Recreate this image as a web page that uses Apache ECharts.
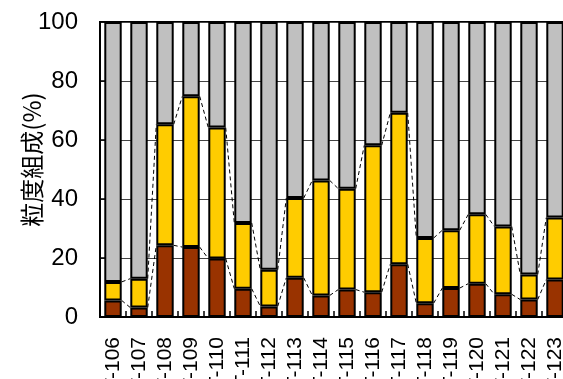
<!DOCTYPE html>
<html>
<head>
<meta charset="utf-8">
<script src="https://cdn.jsdelivr.net/npm/echarts@6/dist/echarts.min.js"></script>
<style>
html,body{margin:0;padding:0;background:#fff;}
#chart{width:563px;height:379px;}
</style>
</head>
<body>
<div id="chart"></div>
<script>
// Categories (sample labels)
var categories = ['T-106','T-107','T-108','T-109','T-110','T-111','T-112','T-113','T-114','T-115','T-116','T-117','T-118','T-119','T-120','T-121','T-122','T-123'];
// Cumulative boundaries (%)
var fineTop   = [5.6, 3.2, 24.3, 23.7, 19.8, 9.6, 3.6, 13.3, 7.3, 9.3, 8.4, 17.9, 4.7, 9.8, 11.3, 7.7, 5.9, 12.7];
var middleTop = [11.9, 13.0, 65.3, 74.8, 64.2, 31.9, 16.0, 40.3, 46.3, 43.5, 58.2, 69.2, 26.8, 29.4, 34.8, 30.7, 14.4, 33.7];
var yTicks = [0, 20, 40, 60, 80, 100];

// Segment values
var fine = fineTop.slice();
var middle = middleTop.map(function(v, i){ return +(v - fineTop[i]).toFixed(1); });
var coarse = middleTop.map(function(v){ return +(100 - v).toFixed(1); });

var BAR_RATIO = 0.67;
var linkData = [];
for (var i = 0; i < categories.length - 1; i++) {
  linkData.push([i, fineTop[i], fineTop[i+1], middleTop[i], middleTop[i+1]]);
}

var chart = echarts.init(document.getElementById('chart'), null, {renderer:'canvas'});
var barStyle = function(c){ return {color:c, borderColor:'#000', borderWidth:2}; };

chart.setOption({
  animation:false,
  grid:{left:100, top:22, width:468, height:295, containLabel:false, outerBoundsMode:'none',
        show:true, borderColor:'#000', borderWidth:2, backgroundColor:'transparent'},
  xAxis:{
    type:'category', data:categories,
    axisLine:{lineStyle:{color:'#000', width:2}},
    axisTick:{show:true, inside:true, length:6, interval:0, lineStyle:{color:'#000', width:1.5}},
    axisLabel:{rotate:90, interval:0, fontFamily:'Liberation Sans, Arial, sans-serif', fontSize:21, color:'#000', margin:20},
    splitLine:{show:false}
  },
  yAxis:{
    type:'value', min:0, max:100, interval:20,
    name:'粒度組成(%)', nameLocation:'middle', nameGap:56, nameRotate:90, nameMoveOverlap:false,
    nameTextStyle:{fontFamily:'Noto Sans CJK JP', fontSize:24, color:'#000', padding:[0,0,0,20]},
    axisLine:{show:true, lineStyle:{color:'#000', width:2}},
    axisTick:{show:true, inside:true, length:8, lineStyle:{color:'#000', width:1.5}},
    axisLabel:{fontFamily:'Liberation Sans, Arial, sans-serif', fontSize:24, color:'#000', margin:22,
      formatter:function(v){ return yTicks.indexOf(v) >= 0 ? String(v) : ''; }},
    splitLine:{show:true, lineStyle:{color:'#444', width:1}}
  },
  series:[
    {type:'bar', stack:'a', data:fine, barWidth:(BAR_RATIO*100)+'%', itemStyle:barStyle('#993300'), z:3},
    {type:'bar', stack:'a', data:middle, itemStyle:barStyle('#FFCC00'), z:3},
    {type:'bar', stack:'a', data:coarse, itemStyle:barStyle('#C0C0C0'), z:3},
    {
      type:'custom', data:linkData, z:2, silent:true,
      encode:{x:0, y:[1,2,3,4]},
      renderItem:function(params, api){
        var idx = api.value(0);
        var band = api.size([1, 0])[0];
        var half = band * BAR_RATIO / 2;
        var children = [];
        [[1,2],[3,4]].forEach(function(p){
          var a = api.coord([idx, api.value(p[0])]);
          var b = api.coord([idx + 1, api.value(p[1])]);
          children.push({type:'line', shape:{x1:a[0]+half, y1:a[1], x2:b[0]-half, y2:b[1]},
            style:{stroke:'#000', lineWidth:1, lineDash:[4,3]}});
        });
        return {type:'group', children:children};
      }
    }
  ]
});
</script>
</body>
</html>
